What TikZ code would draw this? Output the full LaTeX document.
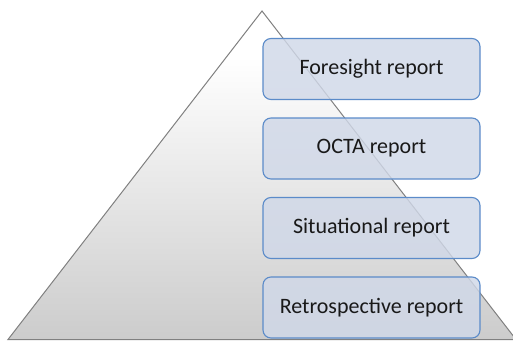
\documentclass[tikz,border=0pt]{standalone}
\usepackage{fontspec}
\setmainfont{Carlito}
\usepackage{tikz}
\usetikzlibrary{positioning}
\definecolor{boxfill}{HTML}{D0D8E8}
\definecolor{boxline}{HTML}{5B8BC9}
\definecolor{edgegray}{HTML}{808080}
\pgfdeclareverticalshading{pyramidfade}{100bp}{color(0bp)=(black!20); color(25bp)=(black!20);
  color(68bp)=(white); color(100bp)=(white)}

\begin{document}
\begin{tikzpicture}[x=1pt,y=1pt,node distance=79.5pt,
                    report/.style={draw=boxline,line width=1.1pt,fill=boxfill,fill opacity=0.82,
                      text opacity=1,rounded corners=8pt,minimum width=217pt,minimum height=61pt,
                      font=\fontsize{22}{26}\selectfont,text=black!90}]
  \useasboundingbox (0,0) rectangle (513,341);
  %\draw[red] (0,0) rectangle (513,341);

  \coordinate (top)   at (262,330);
  \coordinate (left)  at (8,1.5);
  \coordinate (right) at (516,1.5);
  \begin{scope}
    \clip (0,0) rectangle (513,341);
    \shade[shading=pyramidfade,draw=edgegray,line width=1pt]
      (left) -- (top) -- (right) -- cycle;
  \end{scope}

  \node[report] (fore)                  at (371.5,272) {Foresight report};
  \node[report] (octa)  [below of=fore] {OCTA report};
  \node[report] (situ)  [below of=octa] {Situational report};
  \node[report] (retro) [below of=situ] {Retrospective report};
\end{tikzpicture}
\end{document}
